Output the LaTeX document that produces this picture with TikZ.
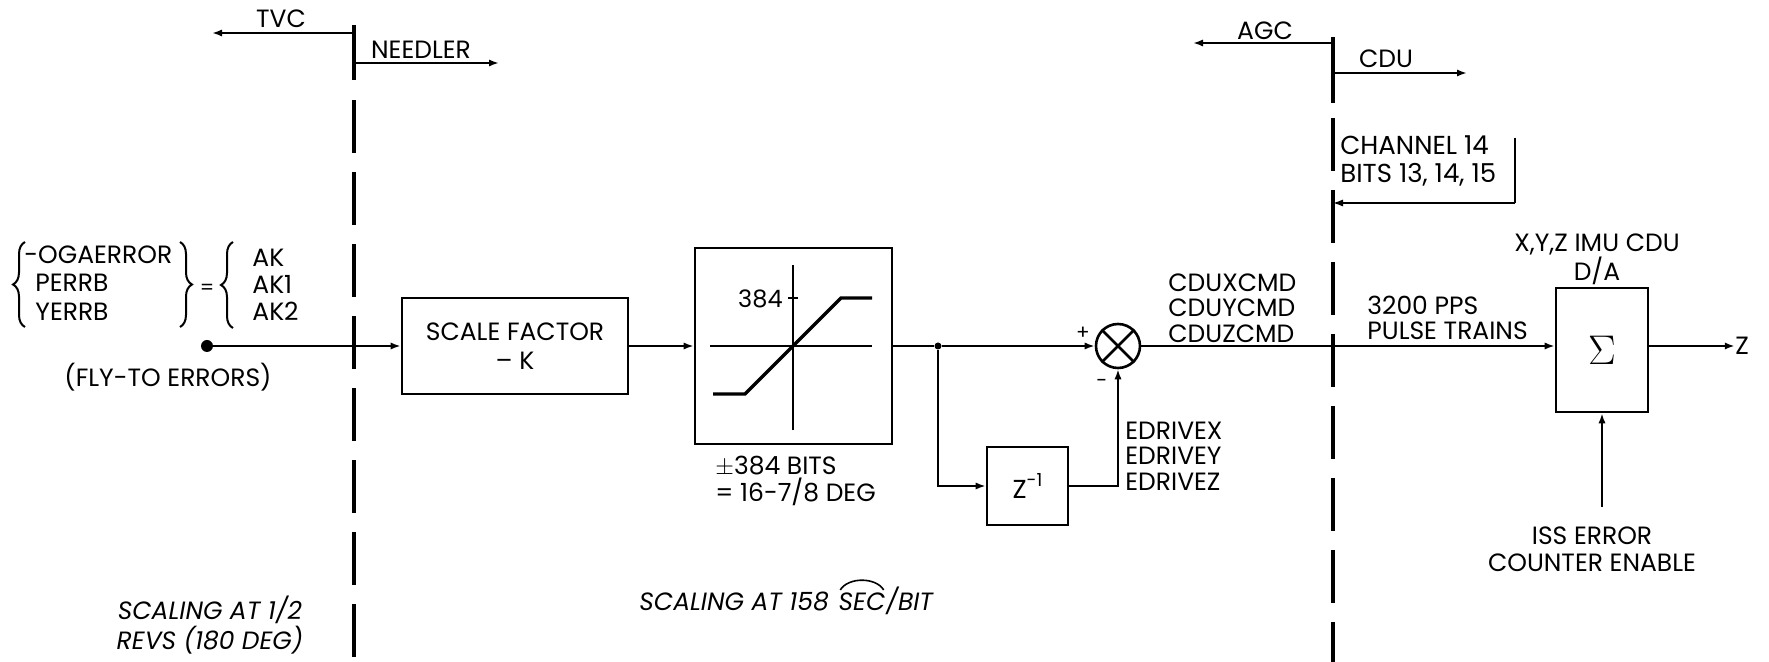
\documentclass[tikz,border=0pt]{standalone}
\usepackage{fontspec}
\setmainfont{Poppins}
\usetikzlibrary{arrows.meta,decorations.pathreplacing,calc}
\begin{document}
\begin{tikzpicture}[x=0.5pt,y=-0.5pt,
  lbl/.style={font=\fontsize{12.5}{12.75}\selectfont, inner sep=0pt, align=left},
  ital/.style={font=\fontsize{12.5}{12.5}\selectfont\itshape, inner sep=0pt, align=center},
  box/.style={draw, line width=1.3pt, inner sep=0pt},
  wire/.style={line width=1.2pt},
  arr/.style={wire,-{Latex[length=5pt,width=3.6pt]}},
  sepsolid/.style={line width=2pt},
  sepdash/.style={line width=2pt, dash pattern=on 26.5pt off 9.5pt},
  brc/.style={decorate, decoration={brace, amplitude=6pt}, line width=1pt},
]
\useasboundingbox (0,0) rectangle (1769,662);

% ---------- separator lines ----------
\coordinate (s1a) at (354,25);
\coordinate (s1b) at (354,80);
\coordinate (s1c) at (354,100);
\coordinate (s1d) at (354,662);
\draw[sepsolid] (s1a) -- (s1b);
\draw[sepdash] (s1c) -- (s1d);
\coordinate (s2a) at (1333,37);
\coordinate (s2b) at (1333,103);
\coordinate (s2c) at (1333,118);
\coordinate (s2d) at (1333,662);
\draw[sepsolid] (s2a) -- (s2b);
\draw[sepdash] (s2c) -- (s2d);

% ---------- top labels ----------
\node[lbl] (tvc) at (281,19) {TVC};
\coordinate (tvcS) at (354,33);
\coordinate (tvcE) at (212,33);
\draw[arr] (tvcS) -- (tvcE);
\node[lbl] (needler) at (421,50) {NEEDLER};
\coordinate (ndS) at (354,63);
\coordinate (ndE) at (499,63);
\draw[arr] (ndS) -- (ndE);
\node[lbl] (agc) at (1265,31) {AGC};
\coordinate (agcS) at (1333,43);
\coordinate (agcE) at (1193,43);
\draw[arr] (agcS) -- (agcE);
\node[lbl] (cdu) at (1386,59) {CDU};
\coordinate (cduS) at (1333,73);
\coordinate (cduE) at (1467,73);
\draw[arr] (cduS) -- (cduE);

% ---------- channel 14 ----------
\node[lbl, anchor=west, font=\fontsize{13}{14}\selectfont] (chan) at (1340,161) {CHANNEL 14\\BITS 13, 14, 15};
\coordinate (chTop) at (1515,138);
\coordinate (chCorner) at (1515,203);
\coordinate (chEnd) at (1333,203);
\draw[line width=0.8pt] (chTop) -- (chCorner);
\draw[arr, line width=0.8pt] (chCorner) -- (chEnd);

% ---------- input braces ----------
\draw[brc] (25,327) -- (25,242);
\node[lbl, anchor=west] (oga) at (24,255) {-OGAERROR};
\node[lbl, anchor=west] (perrb) at (35,283) {PERRB};
\node[lbl, anchor=west] (yerrb) at (35,312) {YERRB};
\draw[brc] (180,242) -- (180,327);
\node[lbl, font=\fontsize{10}{10}\selectfont] (eq) at (207,289) {=};
\draw[brc] (233,328) -- (233,242);
\node[lbl, anchor=west] (ak) at (252,258) {AK};
\node[lbl, anchor=west] (ak1) at (252,284) {AK1};
\node[lbl, anchor=west] (ak2) at (252,311) {AK2};
\node[lbl] (fly) at (168,377) {(FLY-TO ERRORS)};

% ---------- main chain ----------
\node[circle, fill, inner sep=0pt, minimum size=6pt] (dot) at (207,346) {};
\node[box, minimum width=113pt, minimum height=48pt, align=center,
      font=\fontsize{12.5}{14.5}\selectfont] (scale) at (515,346) {SCALE FACTOR\\– K};
\node[box, minimum width=98.5pt, minimum height=98pt] (lim) at (793.5,346) {};
\draw[arr] (dot) -- (scale.west);
\draw[arr] (scale.east) -- (lim.west);

% limiter characteristic
\draw[line width=1pt] (793,265) -- (793,430);
\draw[line width=1pt] (710,346) -- (872,346);
\draw[line width=1.6pt] (713,394) -- (745,394) -- (841,298) -- (872,298);
\draw[line width=1pt] (788,298) -- (798,298);
\node[lbl, anchor=east, font=\fontsize{12}{12}\selectfont] (l384) at (783,299) {384};
\node[lbl, anchor=west, font=\fontsize{12.5}{12.5}\selectfont] (bits) at (715,481) {$\pm$384 BITS\\= 16-7/8 DEG};

% junction and summing circle
\node[circle, fill, inner sep=0pt, minimum size=3.5pt] (jn) at (938,346) {};
\node[circle, draw, line width=1.3pt, minimum size=22pt, inner sep=0pt] (sum) at (1118,346) {};
\draw[line width=1.3pt] (sum.north east) -- (sum.south west);
\draw[line width=1.3pt] (sum.north west) -- (sum.south east);
\draw[wire] (lim.east) -- (jn);
\draw[arr] (jn) -- (sum.west);
\node[lbl, font=\fontsize{10}{10}\selectfont] (plus) at (1083,333) {+};
\node[lbl, font=\fontsize{10}{10}\selectfont] (minus) at (1102,383) {-};

% feedback
\node[box, minimum width=40.5pt, minimum height=39pt, font=\fontsize{13}{13}\selectfont] (zinv) at (1027.5,486) {Z\raisebox{0.9ex}{\fontsize{9}{9}\selectfont -1}};
\draw[arr] (jn) |- (zinv.west);
\draw[arr] (zinv.east) -| (sum.south);
\node[lbl, anchor=west] (edr) at (1125,456) {EDRIVEX\\EDRIVEY\\EDRIVEZ};
\node[lbl, anchor=west] (cmd) at (1168,308) {CDUXCMD\\CDUYCMD\\CDUZCMD};

% D/A summer
\node[box, minimum width=46pt, minimum height=62pt, font=\fontsize{22}{22}\selectfont] (da) at (1602,350) {$\Sigma$};
\node[lbl, align=center] (imu) at (1597,259) {X,Y,Z IMU CDU\\D/A};
\draw[arr] (sum.east) -- (sum.east -| da.west);
\node[lbl, anchor=west] (pps) at (1367,318) {3200 PPS\\PULSE TRAINS};
\node[lbl] (zout) at (1742,346) {Z};
\draw[arr] (da.east |- zout) -- (zout.west);
\coordinate (issS) at (1602,507);
\draw[arr] (issS) -- (da.south);
\node[lbl, align=center, font=\fontsize{12.5}{13.5}\selectfont] (iss) at (1592,549) {ISS ERROR\\COUNTER ENABLE};

% ---------- bottom scaling notes ----------
\node[ital] (sc1) at (210,625) {SCALING AT 1/2\\REVS (180 DEG)};
\node[ital, anchor=base west] (sc2a) at (639,611) {SCALING AT 158};
\node[ital, anchor=base west] (sc2b) at ($(sc2a.base east)+(9,0)$) {SEC};
\node[ital, anchor=base west] (sc2c) at (sc2b.base east) {/BIT};
\draw[line width=0.8pt] ($(sc2b.north west)+(2,-3)$) .. controls ($(sc2b.north west)+(10,-16)$) and ($(sc2b.north east)+(-10,-16)$) .. ($(sc2b.north east)+(-2,-3)$);
\end{tikzpicture}
\end{document}
